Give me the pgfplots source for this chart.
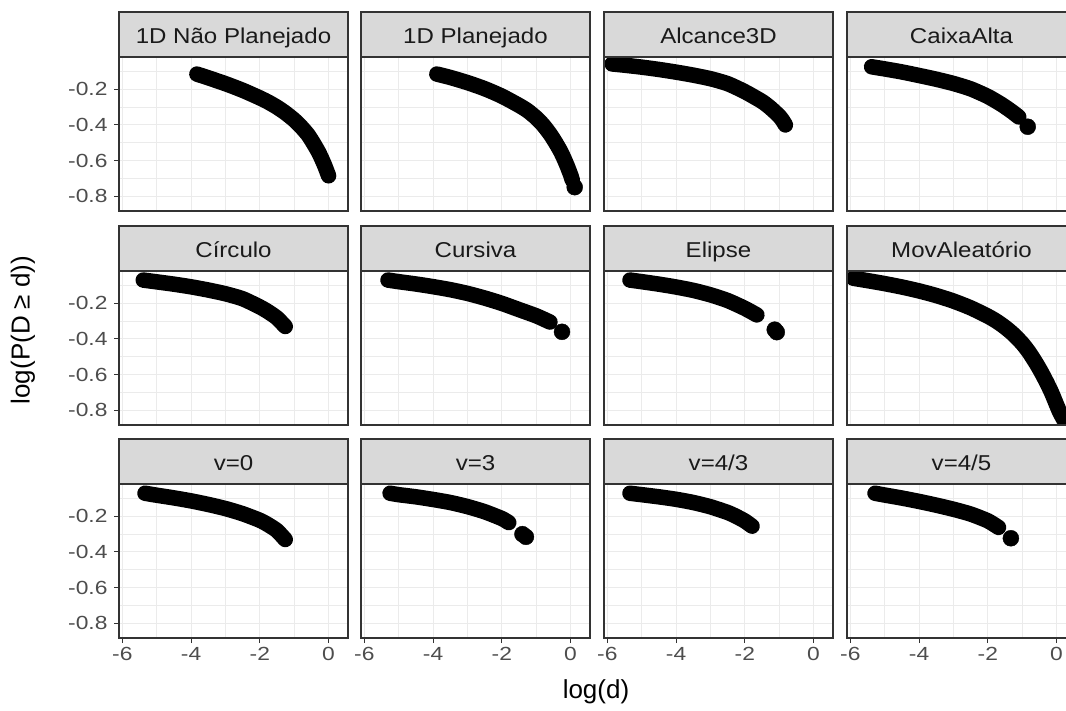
\documentclass[border=0pt]{standalone}
\usepackage{pgfplots}
\pgfplotsset{compat=1.18}
\usepackage{fontspec}
\setmainfont{Liberation Sans}
\newfontfamily\tickfont[FakeStretch=1.2]{Liberation Sans}
\newfontfamily\stripfont[FakeStretch=1.12]{Liberation Sans}

\definecolor{grey10}{HTML}{1A1A1A}
\definecolor{grey20}{HTML}{333333}
\definecolor{grey30}{HTML}{4D4D4D}
\definecolor{grey85}{HTML}{D9D9D9}
\definecolor{grey92}{HTML}{EBEBEB}

\pgfplotsset{
  facet/.style={
    scale only axis, width=229pt, height=154pt, anchor=north west,
    xmin=-6.096, xmax=0.565, ymin=-0.884, ymax=-0.018,
    xtick={-6,-4,-2,0}, ytick={-0.8,-0.6,-0.4,-0.2},
    minor xtick={-5,-3,-1}, minor ytick={-0.7,-0.5,-0.3,-0.1},
    xticklabels={}, yticklabels={},
    grid=both,
    major grid style={grey92, line width=1.1pt},
    minor grid style={grey92, line width=0.55pt},
    axis line style={grey20, line width=1.2pt},
    tick align=outside, major tick length=5pt, minor tick length=0pt,
    xtick pos=bottom, ytick pos=left,
    xtick style={draw=none}, ytick style={draw=none},
    xticklabel style={font=\tickfont\fontsize{19}{19}\selectfont, text=grey30, yshift=-1pt},
    yticklabel style={font=\tickfont\fontsize{19}{19}\selectfont, text=grey30, xshift=-3pt},
    clip mode=individual,
  },
  leftcol/.style={yticklabels={-0.8,-0.6,-0.4,-0.2}, ytick style={draw=grey20, line width=1.1pt}},
  bottomrow/.style={xticklabels={-6,-4,-2,0}, xtick style={draw=grey20, line width=1.1pt}},
  band/.style={black, line width=15.5pt, line cap=round, line join=round, no markers, smooth, tension=0.4},
  dot/.style={only marks, mark=*, mark size=8pt, black},
}

% panel frame drawn over the points
\newcommand{\frameit}{\draw[grey20, line width=1.2pt] (rel axis cs:0,0) rectangle (rel axis cs:1,1);}
% facet strip above a panel whose top-left corner is at (#1,#2)
\newcommand{\strip}[3]{%
  \draw[fill=grey85, draw=grey20, line width=1.2pt] (#1pt,-#2pt) rectangle ++(229pt,45pt);
  \node[font=\stripfont\fontsize{21.5}{21.5}\selectfont, text=grey10, anchor=base, inner sep=0pt]
    at (#1pt+114.5pt,-#2pt+14pt) {#3};}

\begin{document}
\begin{tikzpicture}

% ---------------- row 1 ----------------
\begin{axis}[facet, leftcol, at={(119pt,-57pt)}]
\addplot[band] coordinates {(-3.83,-0.114) (-3.5,-0.135) (-3.0,-0.168) (-2.5,-0.205) (-2.0,-0.248) (-1.75,-0.272) (-1.5,-0.300) (-1.25,-0.333) (-1.0,-0.372) (-0.8,-0.41) (-0.6,-0.455) (-0.45,-0.50) (-0.3,-0.55) (-0.2,-0.59) (-0.1,-0.635) (0.0,-0.686)};
\frameit
\end{axis}
\strip{119}{57}{1D Não Planejado}

\begin{axis}[facet, at={(361pt,-57pt)}]
\addplot[band] coordinates {(-3.89,-0.114) (-3.5,-0.133) (-3.0,-0.162) (-2.5,-0.196) (-2.0,-0.238) (-1.5,-0.29) (-1.25,-0.32) (-1.0,-0.36) (-0.8,-0.40) (-0.6,-0.45) (-0.45,-0.495) (-0.3,-0.545) (-0.2,-0.585) (-0.1,-0.63) (0.0,-0.68) (0.05,-0.71)};
\addplot[dot] coordinates {(0.12,-0.75)};
\frameit
\end{axis}
\strip{361}{57}{1D Planejado}

\begin{axis}[facet, at={(604pt,-57pt)}]
\addplot[band] coordinates {(-5.86,-0.057) (-5.5,-0.064) (-5.0,-0.075) (-4.5,-0.088) (-4.0,-0.103) (-3.5,-0.120) (-3.0,-0.140) (-2.5,-0.168) (-2.0,-0.213) (-1.5,-0.268) (-1.25,-0.305) (-1.0,-0.35) (-0.9,-0.375) (-0.82,-0.40)};
\frameit
\end{axis}
\strip{604}{57}{Alcance3D}

\begin{axis}[facet, at={(847pt,-57pt)}]
\addplot[band] coordinates {(-5.38,-0.073) (-5.0,-0.085) (-4.5,-0.102) (-4.0,-0.122) (-3.5,-0.143) (-3.0,-0.167) (-2.5,-0.197) (-2.0,-0.24) (-1.6,-0.285) (-1.3,-0.325) (-1.1,-0.355)};
\addplot[dot] coordinates {(-0.84,-0.41)};
\frameit
\end{axis}
\strip{847}{57}{CaixaAlta}

% ---------------- row 2 ----------------
\begin{axis}[facet, leftcol, at={(119pt,-271pt)}]
\addplot[band] coordinates {(-5.39,-0.069) (-5.0,-0.079) (-4.5,-0.092) (-4.0,-0.107) (-3.5,-0.125) (-3.0,-0.146) (-2.5,-0.174) (-2.0,-0.22) (-1.75,-0.248) (-1.5,-0.282) (-1.26,-0.33)};
\frameit
\end{axis}
\strip{119}{271}{Círculo}

\begin{axis}[facet, at={(361pt,-271pt)}]
\addplot[band] coordinates {(-5.31,-0.069) (-5.0,-0.078) (-4.5,-0.091) (-4.0,-0.106) (-3.5,-0.123) (-3.0,-0.144) (-2.5,-0.17) (-2.0,-0.20) (-1.5,-0.235) (-1.0,-0.27) (-0.6,-0.305)};
\addplot[dot] coordinates {(-0.25,-0.36)};
\frameit
\end{axis}
\strip{361}{271}{Cursiva}

\begin{axis}[facet, at={(604pt,-271pt)}]
\addplot[band] coordinates {(-5.34,-0.069) (-5.0,-0.078) (-4.5,-0.092) (-4.0,-0.108) (-3.5,-0.127) (-3.0,-0.152) (-2.5,-0.184) (-2.0,-0.228) (-1.65,-0.265)};
\addplot[dot] coordinates {(-1.13,-0.348) (-1.07,-0.362)};
\frameit
\end{axis}
\strip{604}{271}{Elipse}

\begin{axis}[facet, at={(847pt,-271pt)}]
\addplot[band] coordinates {(-5.91,-0.059) (-5.5,-0.072) (-5.0,-0.089) (-4.5,-0.108) (-4.0,-0.13) (-3.5,-0.156) (-3.0,-0.187) (-2.5,-0.225) (-2.0,-0.272) (-1.75,-0.30) (-1.5,-0.334) (-1.25,-0.375) (-1.0,-0.425) (-0.8,-0.475) (-0.6,-0.535) (-0.45,-0.585) (-0.3,-0.64) (-0.15,-0.70) (0.0,-0.77) (0.1,-0.815) (0.2,-0.85) (0.26,-0.87)};
\frameit
\end{axis}
\strip{847}{271}{MovAleatório}

% ---------------- row 3 ----------------
\begin{axis}[facet, leftcol, bottomrow, at={(119pt,-484pt)}]
\addplot[band] coordinates {(-5.34,-0.07) (-5.0,-0.081) (-4.5,-0.096) (-4.0,-0.113) (-3.5,-0.133) (-3.0,-0.156) (-2.5,-0.185) (-2.0,-0.222) (-1.75,-0.248) (-1.5,-0.28) (-1.26,-0.33)};
\frameit
\end{axis}
\strip{119}{484}{v=0}

\begin{axis}[facet, bottomrow, at={(361pt,-484pt)}]
\addplot[band] coordinates {(-5.25,-0.07) (-5.0,-0.078) (-4.5,-0.09) (-4.0,-0.105) (-3.5,-0.122) (-3.0,-0.145) (-2.5,-0.174) (-2.0,-0.212) (-1.8,-0.235)};
\addplot[dot] coordinates {(-1.4,-0.30) (-1.3,-0.315)};
\frameit
\end{axis}
\strip{361}{484}{v=3}

\begin{axis}[facet, bottomrow, at={(604pt,-484pt)}]
\addplot[band] coordinates {(-5.34,-0.07) (-5.0,-0.078) (-4.5,-0.09) (-4.0,-0.104) (-3.5,-0.122) (-3.0,-0.146) (-2.5,-0.178) (-2.25,-0.20) (-2.0,-0.226) (-1.79,-0.255)};
\frameit
\end{axis}
\strip{604}{484}{v=4/3}

\begin{axis}[facet, bottomrow, at={(847pt,-484pt)}]
\addplot[band] coordinates {(-5.28,-0.07) (-5.0,-0.08) (-4.5,-0.097) (-4.0,-0.116) (-3.5,-0.137) (-3.0,-0.16) (-2.5,-0.187) (-2.0,-0.225) (-1.69,-0.262)};
\addplot[dot] coordinates {(-1.33,-0.323)};
\frameit
\end{axis}
\strip{847}{484}{v=4/5}

% axis titles
\node[font=\fontsize{26}{26}\selectfont] at (596pt,-692pt) {log(d)};
\node[font=\fontsize{26}{26}\selectfont, rotate=90] at (23pt,-330pt) {log(P(D ≥ d))};

\pgfresetboundingbox
\path[use as bounding box] (0pt,0pt) rectangle (1066pt,-710pt);
\end{tikzpicture}
\end{document}
